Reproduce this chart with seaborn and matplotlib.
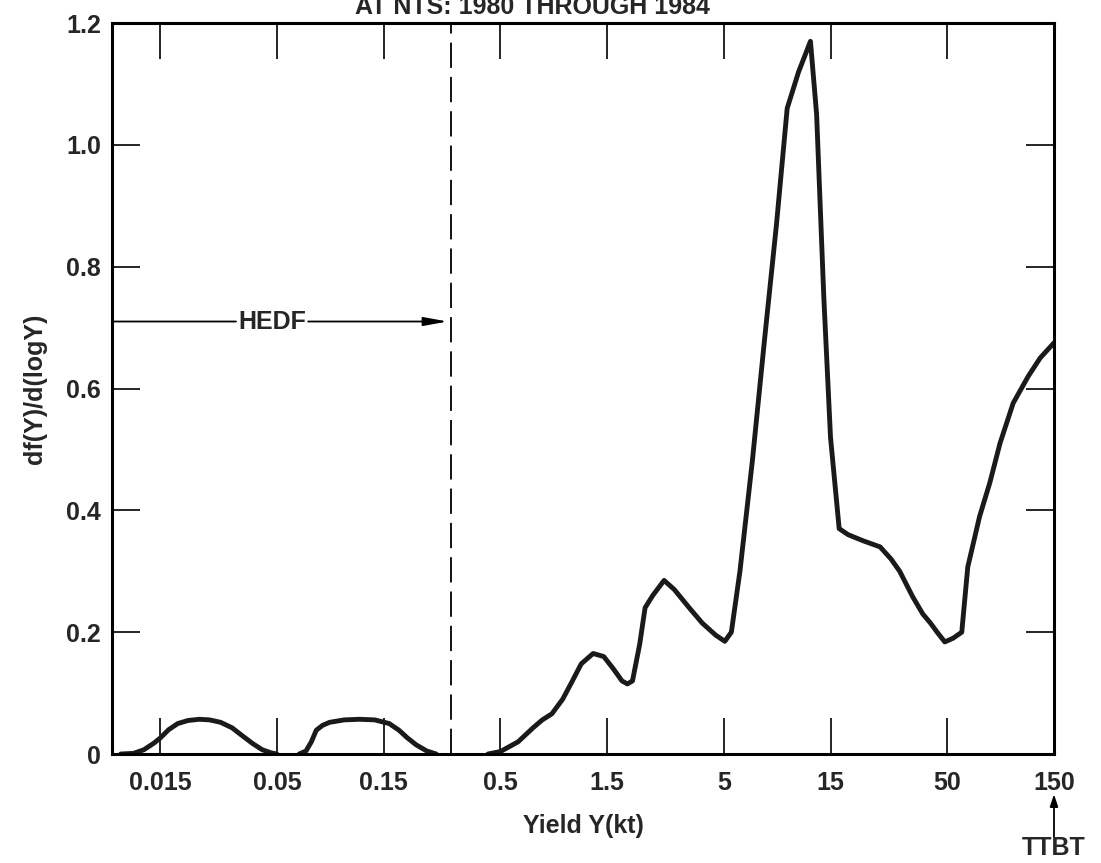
import matplotlib
matplotlib.use("Agg")
import matplotlib.pyplot as plt
import seaborn as sns
import pandas as pd

# Data (yield in kt, density)
bump1_x = [0.0100, 0.0114, 0.0127, 0.0141, 0.0150, 0.0164, 0.0180, 0.0200, 0.0225,
           0.0250, 0.0280, 0.0315, 0.0350, 0.0390, 0.0430, 0.0470, 0.0500]
bump1_y = [0.0, 0.001, 0.007, 0.018, 0.026, 0.040, 0.050, 0.055, 0.057,
           0.056, 0.052, 0.043, 0.030, 0.017, 0.007, 0.002, 0.0]

bump2_x = [0.0629, 0.0675, 0.0713, 0.0750, 0.0800, 0.0860, 0.100, 0.117, 0.137,
           0.159, 0.176, 0.191, 0.210, 0.234, 0.258]
bump2_y = [0.0, 0.005, 0.020, 0.039, 0.047, 0.052, 0.056, 0.057, 0.056,
           0.050, 0.039, 0.027, 0.015, 0.005, 0.0]

main_x = [0.44, 0.50, 0.60, 0.70, 0.77, 0.85, 0.95, 1.05, 1.15, 1.30, 1.45,
          1.60, 1.75, 1.85, 1.95, 2.10, 2.22, 2.40, 2.70, 3.00, 3.50, 4.00,
          4.60, 5.05, 5.40, 5.90, 6.70, 7.60, 8.60, 9.60, 10.8, 12.2, 13.0,
          14.0, 15.0, 16.4, 18.0, 21.0, 25.0, 28.0, 30.6, 35.0, 38.8, 42.0,
          45.0, 48.7, 53.0, 58.0, 61.7, 69.7, 77.4, 86.0, 98.5, 115.0, 130.0,
          150.0]
main_y = [0.0, 0.004, 0.020, 0.043, 0.056, 0.066, 0.090, 0.120, 0.148, 0.165,
          0.160, 0.140, 0.120, 0.115, 0.120, 0.180, 0.240, 0.260, 0.285, 0.270,
          0.240, 0.215, 0.195, 0.185, 0.200, 0.300, 0.480, 0.680, 0.870, 1.060,
          1.120, 1.170, 1.050, 0.750, 0.520, 0.370, 0.360, 0.350, 0.340, 0.320,
          0.300, 0.258, 0.230, 0.215, 0.200, 0.184, 0.190, 0.200, 0.307, 0.390,
          0.445, 0.510, 0.576, 0.620, 0.650, 0.675]

x_ticks = [0.015, 0.05, 0.15, 0.5, 1.5, 5, 15, 50, 150]
x_ticklabels = ["0.015", "0.05", "0.15", "0.5", "1.5", "5", "15", "50", "150"]
y_ticks = [0, 0.2, 0.4, 0.6, 0.8, 1.0, 1.2]
y_ticklabels = ["0", "0.2", "0.4", "0.6", "0.8", "1.0", "1.2"]

hedf_limit = 0.3

sns.set_theme(style="ticks")
plt.rcParams["font.family"] = ["Liberation Sans", "DejaVu Sans"]
plt.rcParams["font.weight"] = "bold"

fig = plt.figure(figsize=(11.01, 8.63), dpi=100)
ax = fig.add_axes([0.1017, 0.1263, 0.8556, 0.8470])

for xs, ys in [(bump1_x, bump1_y), (bump2_x, bump2_y), (main_x, main_y)]:
    df = pd.DataFrame({"Y": xs, "f": ys})
    sns.lineplot(data=df, x="Y", y="f", ax=ax, color="#1a1a1a", linewidth=3.5,
                 sort=False, estimator=None)

ax.set_xscale("log")
ax.set_xlim(0.00914, 150)
ax.set_ylim(0, 1.2)

ax.set_xticks(x_ticks)
ax.set_xticklabels(x_ticklabels, fontweight="bold")
ax.xaxis.set_minor_locator(matplotlib.ticker.NullLocator())
ax.set_yticks(y_ticks)
ax.set_yticklabels(y_ticklabels, fontweight="bold")
ax.tick_params(axis="x", direction="in", length=26, width=1.2, top=True,
               labelsize=18, pad=12, color="black")
ax.tick_params(axis="y", direction="in", length=20, width=1.2, right=True,
               labelsize=18, pad=8, color="black")
for sp in ax.spines.values():
    sp.set_linewidth(2.2)
    sp.set_color("black")

ax.set_xlabel("Yield Y(kt)", fontsize=18, fontweight="bold", labelpad=14)
ax.set_ylabel("df(Y)/d(logY)", fontsize=18, fontweight="bold", labelpad=14)

# HEDF boundary
ax.axvline(hedf_limit, color="black", linewidth=1.3, dashes=(14, 5))
ax.annotate("", xy=(0.0093, 0.71), xytext=(0.0328, 0.71),
            arrowprops=dict(arrowstyle="-", color="black", lw=1.3,
                            shrinkA=0, shrinkB=0))
ax.text(0.0476, 0.71, "HEDF", fontsize=18, fontweight="bold",
        ha="center", va="center")
ax.annotate("", xy=(0.29, 0.71), xytext=(0.069, 0.71),
            arrowprops=dict(arrowstyle="-|>,head_length=1.2,head_width=0.22",
                            color="black", lw=1.3, shrinkA=0, shrinkB=0))

# TTBT arrow under the 150 tick
ax.annotate("", xy=(150, -0.066), xytext=(150, -0.136),
            annotation_clip=False,
            arrowprops=dict(arrowstyle="-|>,head_length=0.6,head_width=0.2",
                            color="black", lw=1.3, shrinkA=0, shrinkB=0))
ax.text(150, -0.155, "TTBT", fontsize=18, fontweight="bold",
        ha="center", va="center", clip_on=False)

fig.text(0.484, 1 - 14 / 863, "AT NTS: 1980 THROUGH 1984", fontsize=18,
         ha="center", va="baseline")

fig.savefig("out.png", dpi=100)
